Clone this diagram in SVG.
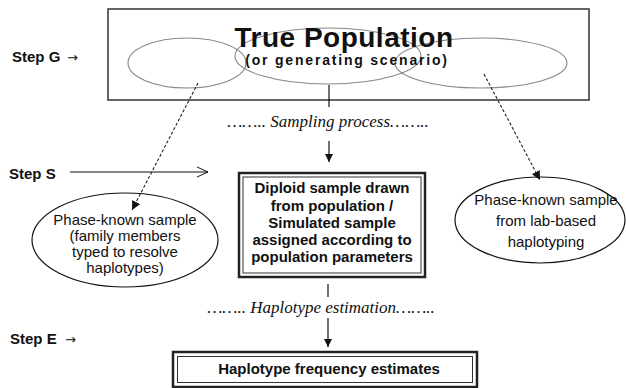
<svg xmlns="http://www.w3.org/2000/svg" width="626" height="388" viewBox="0 0 626 388">
<defs>
<style>
.step{font-family:"Liberation Sans",Arial,sans-serif;font-weight:bold;font-size:15px;fill:#111}
.arr{font-family:"DejaVu Sans","Liberation Sans",sans-serif;font-size:13px;fill:#111}
.proc{font-family:"Liberation Serif","Times New Roman",serif;font-style:italic;font-size:17px;fill:#111;text-anchor:middle}
.bt{font-family:"Liberation Sans",Arial,sans-serif;font-weight:bold;font-size:15px;fill:#111;text-anchor:middle}
.nt{font-family:"Liberation Sans",Arial,sans-serif;font-size:15px;fill:#111;text-anchor:middle}
.ln{stroke:#111;stroke-width:1.2;fill:none}
.dash{stroke:#222;stroke-width:1.1;fill:none;stroke-dasharray:3 2}
.pop{stroke:#888;stroke-width:1.1;fill:none}
</style>
<marker id="tri" viewBox="0 0 10 10" refX="10" refY="5" markerWidth="8" markerHeight="8" markerUnits="userSpaceOnUse" orient="auto">
<path d="M0,0 L10,5 L0,10 z" fill="#111"/>
</marker>
<marker id="tri2" viewBox="0 0 10 10" refX="10" refY="5" markerWidth="9" markerHeight="9" markerUnits="userSpaceOnUse" orient="auto">
<path d="M0,0 L10,5 L0,10 z" fill="#111"/>
</marker>
<marker id="open" viewBox="0 0 12 12" refX="11" refY="6" markerWidth="12" markerHeight="12" markerUnits="userSpaceOnUse" orient="auto">
<path d="M0,1 L11,6 L0,11" fill="none" stroke="#111" stroke-width="1"/>
</marker>
</defs>

<g id="step-labels">
<text class="step" x="12" y="62">Step G</text>
<text class="arr" x="67" y="62">→</text>
<text class="step" x="9" y="179">Step S</text>
<text class="step" x="10" y="344">Step E</text>
<text class="arr" x="65" y="344">→</text>
</g>

<g id="true-population">
<rect x="108" y="9" width="481" height="91" fill="#fff" stroke="#333" stroke-width="1.5"/>
<ellipse class="pop" cx="187" cy="63" rx="59" ry="25"/>
<ellipse class="pop" cx="328" cy="56" rx="93" ry="28"/>
<ellipse class="pop" cx="481" cy="63" rx="86" ry="25"/>
<text x="344" y="47" style="font-family:'Liberation Sans',Arial,sans-serif;font-weight:bold;font-size:28px;letter-spacing:0.5px;fill:#111" text-anchor="middle">True Population</text>
<text x="347" y="65" style="font-family:'Liberation Sans',Arial,sans-serif;font-weight:bold;font-size:14px;letter-spacing:1.8px;fill:#111" text-anchor="middle">(or generating scenario)</text>
</g>

<g id="sampling-label">
<text class="proc" x="328" y="127">…….. Sampling process……..</text>
</g>

<g id="diploid-sample">
<rect x="239" y="173" width="186" height="104" fill="#fff" stroke="#222" stroke-width="2.5"/>
<rect x="243" y="177" width="178" height="96" fill="none" stroke="#333" stroke-width="1"/>
<text class="bt" x="332" y="193">Diploid sample drawn</text>
<text class="bt" x="332" y="210.5">from population /</text>
<text class="bt" x="332" y="228">Simulated sample</text>
<text class="bt" x="332" y="245">assigned according to</text>
<text class="bt" x="332" y="262">population parameters</text>
</g>

<g id="phase-known-family">
<ellipse class="ln" cx="125" cy="240" rx="93" ry="47"/>
<text class="nt" x="125" y="225">Phase-known sample</text>
<text class="nt" x="125" y="241">(family members</text>
<text class="nt" x="125" y="257">typed to resolve</text>
<text class="nt" x="125" y="273">haplotypes)</text>
</g>

<g id="phase-known-lab">
<ellipse class="ln" cx="540" cy="220" rx="85" ry="43"/>
<text class="nt" x="546" y="205">Phase-known sample</text>
<text class="nt" x="546" y="226">from lab-based</text>
<text class="nt" x="546" y="247">haplotyping</text>
</g>

<g id="estimation-label">
<text class="proc" x="321" y="313">…….. Haplotype estimation……..</text>
</g>

<g id="haplotype-estimates">
<rect x="173" y="352" width="304" height="35" fill="#fff" stroke="#222" stroke-width="2.5"/>
<rect x="177.5" y="356.5" width="295" height="26" fill="none" stroke="#333" stroke-width="1"/>
<text class="bt" x="329" y="374">Haplotype frequency estimates</text>
</g>

<g id="connectors">
<line class="ln" x1="329" y1="85" x2="329" y2="107"/>
<line class="ln" x1="329" y1="141" x2="329" y2="162" marker-end="url(#tri)"/>
<line class="ln" x1="70" y1="172" x2="208" y2="172" marker-end="url(#open)"/>
<line class="dash" x1="198" y1="83" x2="132" y2="210" marker-end="url(#tri2)"/>
<line class="dash" x1="484" y1="74" x2="540" y2="180" marker-end="url(#tri2)"/>
<line class="ln" x1="328" y1="284" x2="328" y2="297"/>
<line class="ln" x1="328" y1="318" x2="328" y2="347" marker-end="url(#tri)"/>
</g>
</svg>
